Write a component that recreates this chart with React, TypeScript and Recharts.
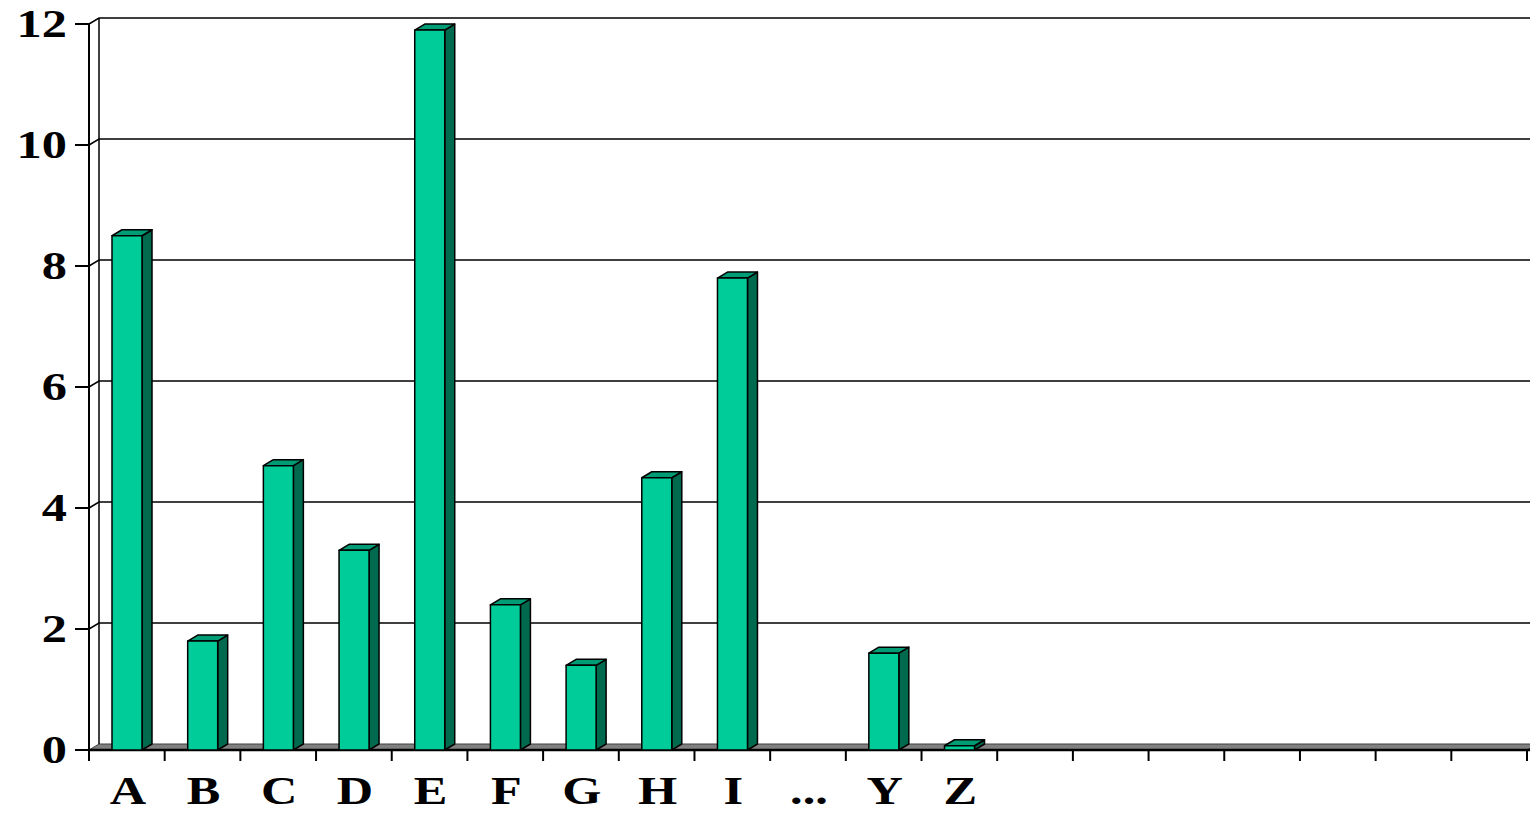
import { BarChart, Bar, XAxis, YAxis, CartesianGrid } from "recharts";

const categories = ["A", "B", "C", "D", "E", "F", "G", "H", "I", "...", "Y", "Z", "", "", "", "", "", "", ""];
const values = [8.5, 1.8, 4.7, 3.3, 11.9, 2.4, 1.4, 4.5, 7.8, null, 1.6, 0.07, null, null, null, null, null, null, null];
const yTicks = [0, 2, 4, 6, 8, 10, 12];

const data = categories.map((name, i) => ({ id: i, name, value: values[i] }));

const WIDTH = 1530;
const HEIGHT = 813;
const LEFT = 89;
const RIGHT = 3;
const BAND = (WIDTH - LEFT - RIGHT) / categories.length;

// depth offset of the 3D box
const DX = 10;
const DY = 6;

const FONT = "'Liberation Serif', 'Times New Roman', serif";
const STRETCH = 1.26; // labels are drawn a little wide

const Bar3D = (props: any) => {
  const { x, y, width, height } = props;
  if (!height || height <= 0) return null;
  const b = y + height;
  return (
    <g stroke="#000" strokeWidth={1.5} strokeLinejoin="round">
      <polygon
        points={`${x + width},${y} ${x + width + DX},${y - DY} ${x + width + DX},${b - DY} ${x + width},${b}`}
        fill="#006a4f"
      />
      <polygon
        points={`${x},${y} ${x + DX},${y - DY} ${x + width + DX},${y - DY} ${x + width},${y}`}
        fill="#009c75"
      />
      <rect x={x} y={y} width={width} height={height} fill="#00cc99" />
    </g>
  );
};

// back-wall gridlines, with the left wall edge and the floor
const GridLine = (p: any) => {
  const { x1, x2, y1, key } = p;
  const bottom = p.y + p.height;
  const isTop = Math.abs(y1 - p.y) < 1;
  const isBottom = Math.abs(y1 - bottom) < 1;
  if (isBottom) {
    return (
      <g key={key}>
        <polygon
          points={`${x1},${y1} ${x1 + DX},${y1 - DY} ${x2 + DX},${y1 - DY} ${x2},${y1}`}
          fill="#808080"
          stroke="#404040"
          strokeWidth={1}
        />
        <line x1={x1} y1={y1} x2={x2 + DX} y2={y1} stroke="#000" strokeWidth={2.5} />
      </g>
    );
  }
  return (
    <g key={key} stroke="#000" fill="none">
      <polyline
        points={`${x1},${y1} ${x1 + DX},${y1 - DY} ${x2 + DX},${y1 - DY}`}
        strokeWidth={1.5}
      />
      {isTop && (
        <line x1={x1 + DX} y1={y1 - DY} x2={x1 + DX} y2={bottom - DY} strokeWidth={1.5} />
      )}
    </g>
  );
};

const Label = ({ x, y, anchor, children }: any) => (
  <text
    transform={`translate(${x},${y}) scale(${STRETCH},1)`}
    textAnchor={anchor}
    fontFamily={FONT}
    fontSize={40}
    fontWeight="bold"
    fill="#000"
  >
    {children}
  </text>
);

const XTick = (props: any) => {
  const { x, y, payload, index } = props;
  const half = BAND / 2;
  const last = index === categories.length - 1;
  return (
    <g>
      <line x1={x - half} y1={y} x2={x - half} y2={y + 11} stroke="#000" strokeWidth={2} />
      {last && <line x1={x + half} y1={y} x2={x + half} y2={y + 11} stroke="#000" strokeWidth={2} />}
      <Label x={x + 1} y={y + 54} anchor="middle">
        {categories[payload.index ?? index] ?? payload.value}
      </Label>
    </g>
  );
};

const YTick = (props: any) => {
  const { x, y, payload } = props;
  return (
    <Label x={x} y={y + 13} anchor="end">
      {payload.value}
    </Label>
  );
};

export default function App() {
  return (
    <div style={{ position: "absolute", left: 0, top: 0, background: "#fff" }}>
      <BarChart
        width={WIDTH}
        height={HEIGHT}
        data={data}
        margin={{ top: 24, right: RIGHT, bottom: 0, left: 0 }}
        barSize={30}
      >
        <CartesianGrid horizontal={GridLine} vertical={false} />
        <XAxis
          dataKey="id"
          type="category"
          height={63}
          axisLine={false}
          tickLine={false}
          tickSize={0}
          tickMargin={0}
          interval={0}
          tick={<XTick />}
        />
        <YAxis
          type="number"
          domain={[0, 12]}
          ticks={yTicks}
          width={LEFT}
          axisLine={{ stroke: "#000", strokeWidth: 2 }}
          tickLine={{ stroke: "#000", strokeWidth: 2 }}
          tickSize={14}
          tickMargin={8}
          tick={<YTick />}
        />
        <Bar dataKey="value" shape={<Bar3D />} isAnimationActive={false} />
      </BarChart>
    </div>
  );
}
